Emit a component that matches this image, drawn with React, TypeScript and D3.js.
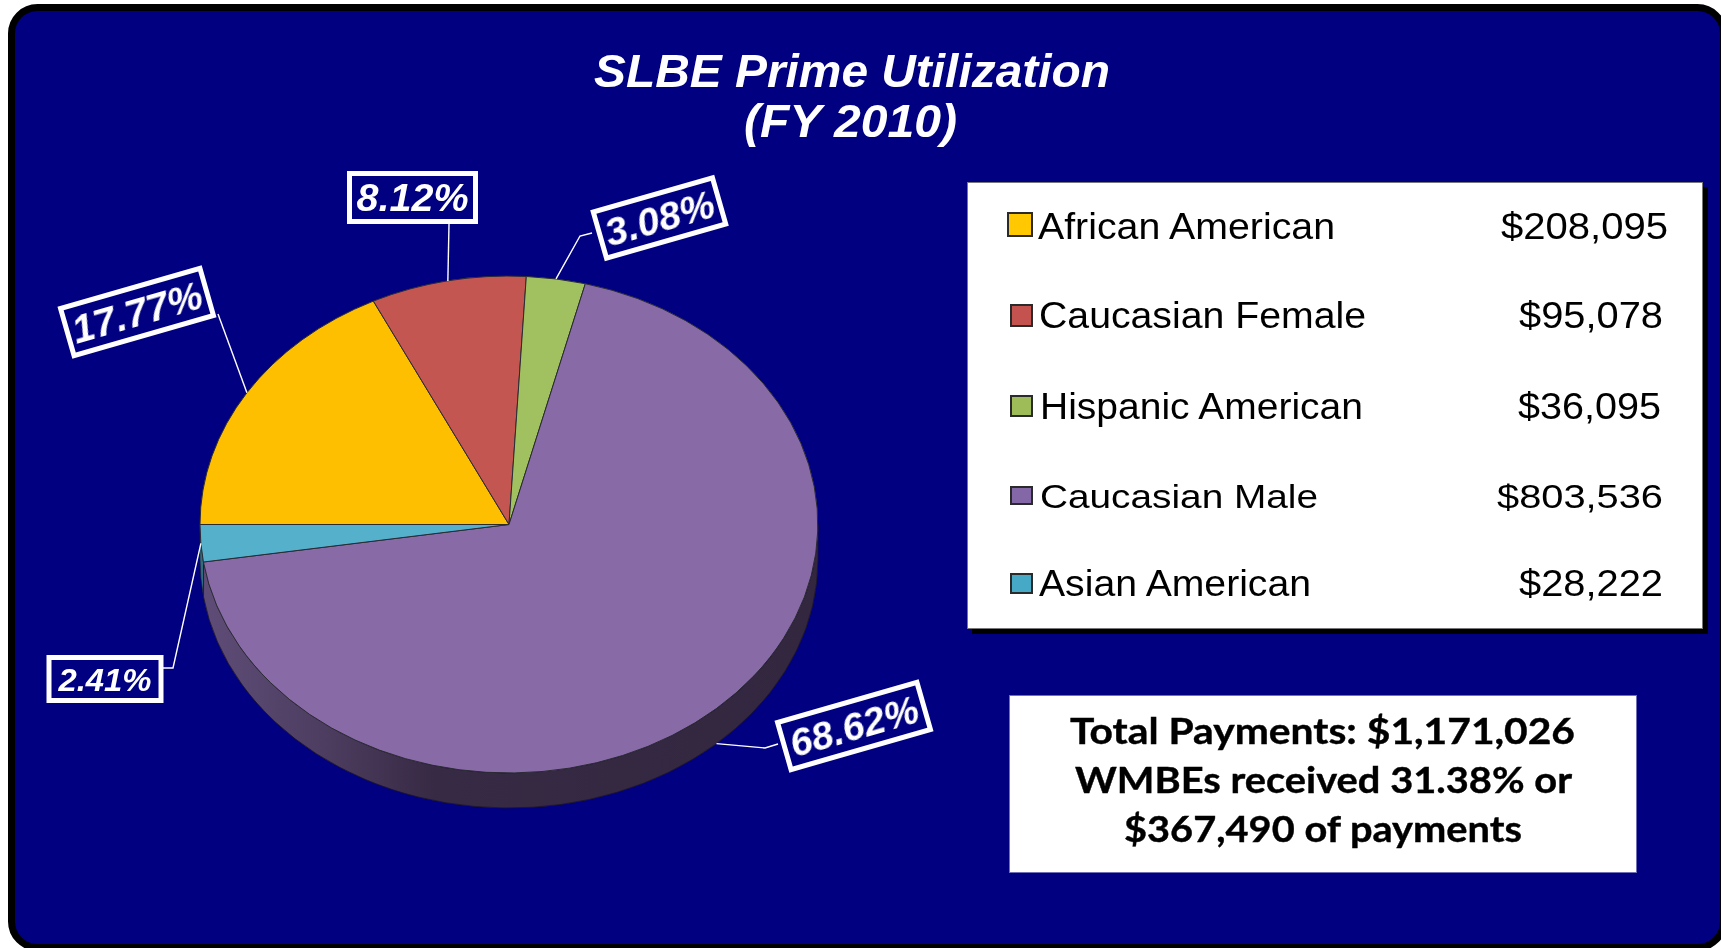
import React from "react";
import * as d3 from "d3";

const categories = ["African American", "Caucasian Female", "Hispanic American", "Caucasian Male", "Asian American"];
const payments = [208095, 95078, 36095, 803536, 28222];
const paymentLabels = ["$208,095", "$95,078", "$36,095", "$803,536", "$28,222"];
const percentLabels = ["17.77%", "8.12%", "3.08%", "68.62%", "2.41%"];
const sliceColors = ["#FDBF00", "#C45652", "#A1C160", "#886BA6", "#55B0CB"];
const swatchColors = ["#FFC800", "#C4524F", "#9EBD59", "#8467A6", "#46A9C6"];
const titleLines = ["SLBE Prime Utilization", "(FY 2010)"];
const totalLines = ["Total Payments: $1,171,026", "WMBEs received 31.38% or", "$367,490 of payments"];

const W = 1721, H = 948;
const pieGeom = { cx: 509, cy: 524.5, rx: 309, ry: 248.5, depth: 35 };

// label box layout: centre, size, rotation, font size, text width, elbow/leader end points
const labelBoxes = [
  { x: 137, y: 312, w: 150, h: 54, rot: -16, fs: 39, tw: 134, leader: [[218, 314]] },
  { x: 412.5, y: 197.5, w: 131, h: 53, rot: 0, fs: 38, tw: 112, leader: [[449, 224]] },
  { x: 659.5, y: 218, w: 129, h: 53, rot: -16, fs: 38, tw: 112, leader: [[580, 236], [592, 233]] },
  { x: 854, y: 726, w: 150, h: 54, rot: -16, fs: 38, tw: 132, leader: [[765, 748], [778, 744]] },
  { x: 105, y: 679, w: 117, h: 48, rot: 0, fs: 32, tw: 93, leader: [[173, 668], [163, 668]] },
];

const legendRows = [
  { base: 239, fs: 37, sx: 1008, sy: 213, sw: 24, sh: 23, tx: 1038, tw: 297, vx: 1501, vw: 167 },
  { base: 328, fs: 36, sx: 1011, sy: 305, sw: 21, sh: 21, tx: 1039, tw: 327, vx: 1519, vw: 144 },
  { base: 419, fs: 36, sx: 1011, sy: 396, sw: 21, sh: 20, tx: 1040, tw: 323, vx: 1518, vw: 143 },
  { base: 508, fs: 34, sx: 1011, sy: 487, sw: 21, sh: 17, tx: 1040, tw: 278, vx: 1497, vw: 166 },
  { base: 596, fs: 36, sx: 1011, sy: 574, sw: 21, sh: 19, tx: 1039, tw: 272, vx: 1519, vw: 144 },
];

const totalRows = [
  { x: 1070, w: 505, base: 744 },
  { x: 1075, w: 497, base: 793 },
  { x: 1124, w: 398, base: 842 },
];

const sans = "'Liberation Sans', Arial, sans-serif";

export default function App() {
  const { cx, cy, rx, ry, depth } = pieGeom;
  const pie = d3.pie<number>().sort(null).startAngle(-Math.PI / 2).endAngle((3 * Math.PI) / 2);
  const slices = pie(payments);
  const arc = d3.arc<d3.PieArcDatum<number>>().innerRadius(0).outerRadius(1);

  const project = (a: number, dz = 0): [number, number] => [
    cx + Math.sin(a) * rx,
    cy - Math.cos(a) * ry + dz,
  ];

  const rim = (a0: number, a1: number) => {
    const [x0, y0] = project(a0);
    const [x1, y1] = project(a1);
    const [x2, y2] = project(a1, depth);
    const [x3, y3] = project(a0, depth);
    const large = Math.abs(a1 - a0) > Math.PI ? 1 : 0;
    return `M${x0},${y0}A${rx},${ry} 0 ${large} 1 ${x1},${y1}L${x2},${y2}A${rx},${ry} 0 ${large} 0 ${x3},${y3}Z`;
  };
  const purple = slices[3];
  const wall = rim(Math.PI / 2, purple.endAngle);
  const cyanWall = rim(purple.endAngle, (3 * Math.PI) / 2);

  return (
    <svg width={W} height={H} viewBox={`0 0 ${W} ${H}`} style={{ position: "absolute", left: 0, top: 0, display: "block", background: "#fff" }}>
      <defs>
        <linearGradient id="wallGrad" gradientUnits="userSpaceOnUse" x1={cx - rx} x2={cx + rx} y1={0} y2={0}>
          <stop offset="0" stopColor="#5f4d78" />
          <stop offset="0.2" stopColor="#4d3d60" />
          <stop offset="0.38" stopColor="#372a44" />
          <stop offset="1" stopColor="#33263f" />
        </linearGradient>
        <filter id="soft" x="-5%" y="-5%" width="110%" height="110%">
          <feGaussianBlur stdDeviation="0.5" />
        </filter>
      </defs>

      <rect x={11.5} y={7.5} width={1712} height={940} rx={26} fill="#000080" stroke="#000" strokeWidth={7} />

      <g fill="#fff" fontFamily={sans} fontWeight="bold" fontStyle="italic" filter="url(#soft)">
        <text x={594} y={87} fontSize={46} textLength={516} lengthAdjust="spacingAndGlyphs">{titleLines[0]}</text>
        <text x={744} y={137} fontSize={46} textLength={213} lengthAdjust="spacingAndGlyphs">{titleLines[1]}</text>
      </g>

      <path d={cyanWall} fill="#2f6d80" stroke="#222" strokeWidth={0.6} />
      <path d={wall} fill="url(#wallGrad)" stroke="#1d1528" strokeWidth={0.8} />
      <g transform={`translate(${cx},${cy}) scale(${rx},${ry})`}>
        {slices.map((s, i) => (
          <path key={categories[i]} d={arc(s) as string} fill={sliceColors[i]} stroke="#2b2b33" strokeWidth={1} vectorEffect="non-scaling-stroke" />
        ))}
      </g>

      <g fill="none" stroke="#fff" strokeWidth={1.4}>
        {slices.map((s, i) => {
          const mid = (s.startAngle + s.endAngle) / 2;
          const onFront = Math.cos(mid) < 0 && Math.sin(mid) > 0;
          const pts = [project(mid, onFront ? depth : 0), ...labelBoxes[i].leader] as [number, number][];
          return <path key={i} d={d3.line()(pts) as string} />;
        })}
      </g>

      {labelBoxes.map((b, i) => (
        <g key={percentLabels[i]} transform={`translate(${b.x},${b.y}) rotate(${b.rot})`}>
          <rect x={-b.w / 2 + 2.5} y={-b.h / 2 + 2.5} width={b.w - 5} height={b.h - 5} fill="#000080" stroke="#fff" strokeWidth={5} />
          <text y={b.fs * 0.36} textAnchor="middle" fill="#fff" fontFamily={sans} fontWeight="bold" fontStyle="italic" fontSize={b.fs} textLength={b.tw} lengthAdjust="spacingAndGlyphs" filter="url(#soft)">
            {percentLabels[i]}
          </text>
        </g>
      ))}

      <rect x={972} y={187} width={736} height={447} fill="#000" />
      <rect x={967.5} y={182.5} width={735} height={446} fill="#fff" stroke="#777" strokeWidth={1} />
      {legendRows.map((r, i) => (
        <g key={categories[i]} fontFamily={sans} fontSize={r.fs} fill="#000">
          <rect x={r.sx} y={r.sy} width={r.sw} height={r.sh} fill={swatchColors[i]} stroke="#2a2a2a" strokeWidth={2} />
          <text x={r.tx} y={r.base} textLength={r.tw} lengthAdjust="spacingAndGlyphs" filter="url(#soft)">{categories[i]}</text>
          <text x={r.vx} y={r.base} textLength={r.vw} lengthAdjust="spacingAndGlyphs" filter="url(#soft)">{paymentLabels[i]}</text>
        </g>
      ))}

      <rect x={1009.5} y={695.5} width={627} height={177} fill="#fff" stroke="#6f6fb8" strokeWidth={1} />
      {totalRows.map((r, i) => (
        <text key={i} x={r.x} y={r.base} fontFamily="Lato, 'Open Sans', sans-serif" fontWeight="bold" fontSize={37} fill="#000" stroke="#000" strokeWidth={0.4} textLength={r.w} lengthAdjust="spacingAndGlyphs" filter="url(#soft)">
          {totalLines[i]}
        </text>
      ))}
    </svg>
  );
}
